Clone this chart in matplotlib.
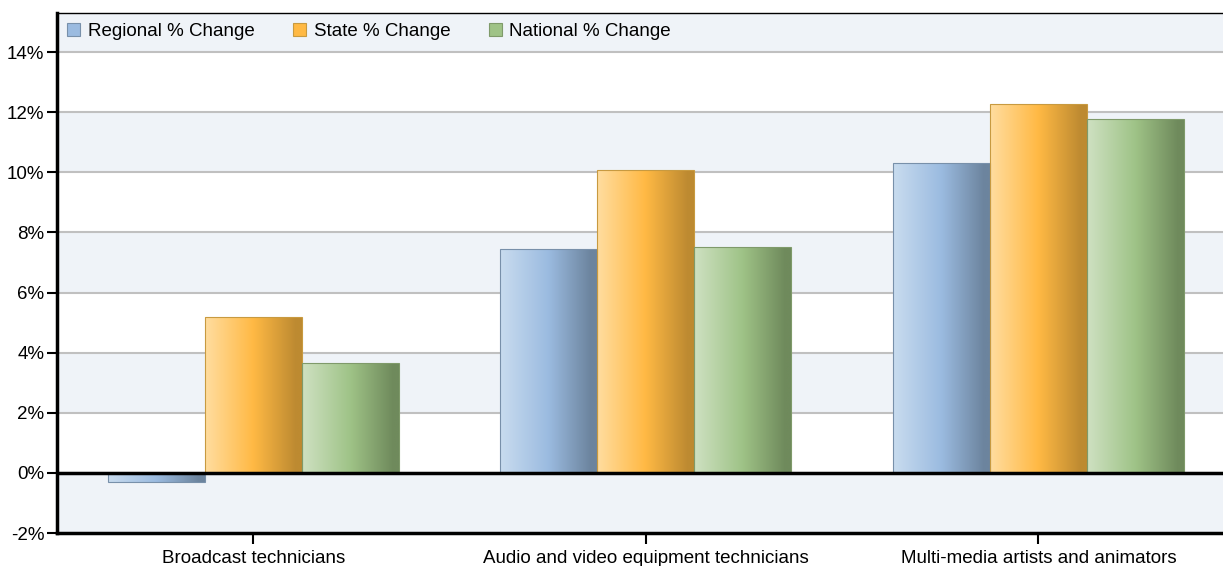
import matplotlib.pyplot as plt
import matplotlib.colors as mcolors
import numpy as np

categories = ["Broadcast technicians", "Audio and video equipment technicians",
              "Multi-media artists and animators"]
series_names = ["Regional % Change", "State % Change", "National % Change"]
regional = [-0.3, 7.45, 10.3]
state = [5.2, 10.07, 12.28]
national = [3.66, 7.51, 11.78]
yticks = [-2, 0, 2, 4, 6, 8, 10, 12, 14]

values = [regional, state, national]
# light, mid, dark for the gradient
shades = [
    ("#c9dcef", "#9bbbe0", "#6c849e"),
    ("#ffdda0", "#ffb944", "#bd8a31"),
    ("#cfe1c2", "#9fc387", "#6f8a5c"),
]
edges = ["#7890aa", "#c89a40", "#7f9a6a"]

plt.rcParams['font.family'] = ['Liberation Sans', 'DejaVu Sans']

fig = plt.figure(figsize=(12.23, 5.66), dpi=100)
ax = fig.add_axes([57 / 1223, 1 - 533 / 566, 1 - 57 / 1223, (533 - 13) / 566])

ymin, ymax = -2, 15.3
xmin, xmax = -0.5, 2.47

# alternating background bands
ax.set_facecolor("white")
band_edges = yticks + [ymax]
for i in range(len(band_edges) - 1):
    if i % 2 == 0:
        ax.axhspan(band_edges[i], band_edges[i + 1], color="#eff3f8", lw=0, zorder=0)
for t in yticks[1:]:
    ax.axhline(t, color="#c0c0c0", lw=1.5, zorder=1)

x = np.arange(len(categories))
width = 0.247
grad = np.linspace(0, 1, 256).reshape(1, -1)
for k, (vals, sh, ec) in enumerate(zip(values, shades, edges)):
    cmap = mcolors.LinearSegmentedColormap.from_list(
        "g%d" % k, [(0, sh[0]), (0.5, sh[1]), (0.94, sh[2]), (1, sh[2])])
    bars = ax.bar(x + (k - 1) * width, vals, width, color=sh[1], lw=0,
                  zorder=2, label=series_names[k])
    for b in bars:
        x0, y0 = b.get_x(), b.get_y()
        w, h = b.get_width(), b.get_height()
        im = ax.imshow(grad, cmap=cmap, aspect="auto", zorder=2.5,
                       extent=(x0, x0 + w, min(y0, y0 + h), max(y0, y0 + h)))
        im.set_clip_path(b)
    # thin outline on top of the gradient
    ax.bar(x + (k - 1) * width, vals, width, fill=False, edgecolor=ec,
           lw=0.8, zorder=3)

ax.set_xlim(xmin, xmax)
ax.set_ylim(ymin, ymax)

ax.axhline(0, color="black", lw=2.5, zorder=4)

ax.set_xticks(x)
ax.set_xticklabels(categories, fontsize=13.5)
ax.set_yticks(yticks)
ax.set_yticklabels(["%d%%" % t for t in yticks], fontsize=13.5)
ax.tick_params(axis="y", length=7, width=1.5, pad=2)
ax.tick_params(axis="x", length=8, width=1.5, pad=4)

for s in ["left", "bottom"]:
    ax.spines[s].set_linewidth(2.5)
ax.spines["top"].set_linewidth(1)
ax.spines["right"].set_visible(False)

handles = [plt.Rectangle((0, 0), 1, 1, facecolor=sh[1], edgecolor=ec, lw=0.8)
           for sh, ec in zip(shades, edges)]
ax.legend(handles, series_names, loc="upper left", ncol=3, frameon=False,
          fontsize=13.5, handlelength=0.7, handleheight=0.7, handletextpad=0.4,
          columnspacing=2.05, borderaxespad=0.15, bbox_to_anchor=(0.0, 1.0))

fig.savefig("out.png", dpi=100)
